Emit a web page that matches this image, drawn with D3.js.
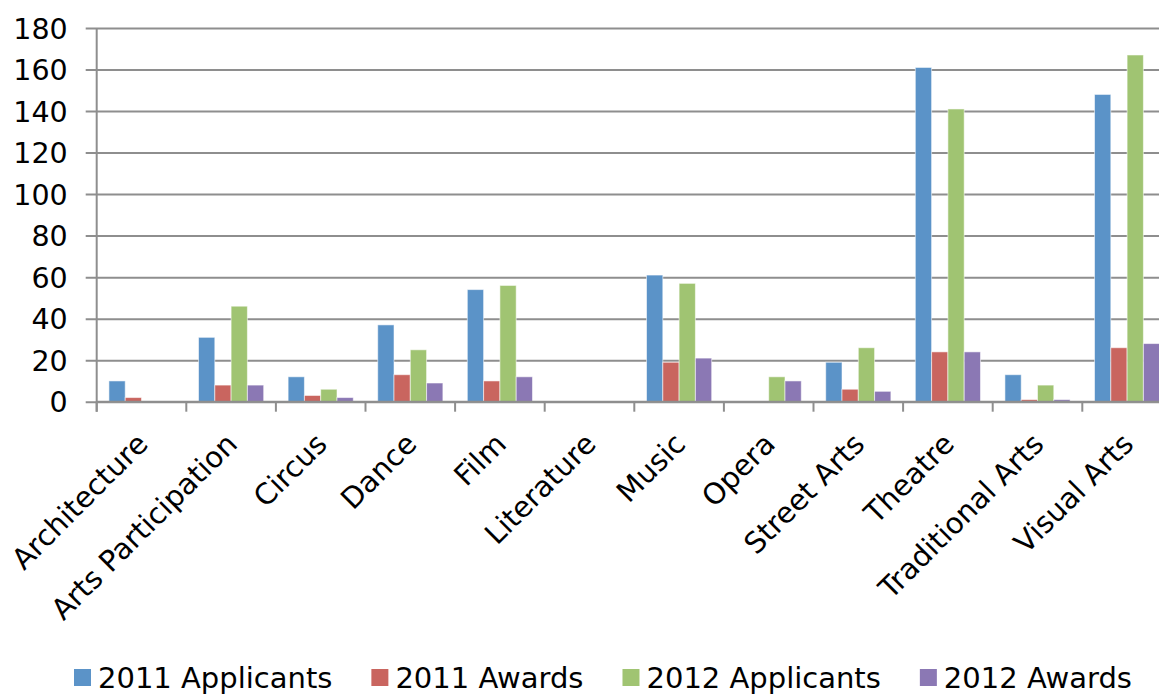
<!DOCTYPE html>
<html>
<head>
<meta charset="utf-8">
<script src="https://cdn.jsdelivr.net/npm/d3@7"></script>
<style>
  html, body { margin: 0; padding: 0; background: #fff; overflow: hidden; }
  svg { display: block; }
  text { font-family: "DejaVu Sans", sans-serif; fill: #000; }
</style>
</head>
<body>
<svg id="chart" width="1159" height="695"></svg>
<script>
// Arts categories and the number of applicants / awards per year
const categories = ["Architecture", "Arts Participation", "Circus", "Dance", "Film", "Literature",
  "Music", "Opera", "Street Arts", "Theatre", "Traditional Arts", "Visual Arts"];
const seriesNames = ["2011 Applicants", "2011 Awards", "2012 Applicants", "2012 Awards"];
const applicants2011 = [10, 31, 12, 37, 54, 0, 61, 0, 19, 161, 13, 148];
const awards2011     = [2, 8, 3, 13, 10, 0, 19, 0, 6, 24, 1, 26];
const applicants2012 = [0, 46, 6, 25, 56, 0, 57, 12, 26, 141, 8, 167];
const awards2012     = [0, 8, 2, 9, 12, 0, 21, 10, 5, 24, 1, 28];
const yTicks = [0, 20, 40, 60, 80, 100, 120, 140, 160, 180];
const colors = ["#5B93C8", "#C9655F", "#A0C472", "#8B78B4"];

const seriesValues = [applicants2011, awards2011, applicants2012, awards2012];

const svg = d3.select("#chart");

// plot area
const plotLeft = 96.7, plotTop = 28, plotBottom = 401.7;
const bandW = 89.6;
const plotRight = plotLeft + bandW * categories.length;

const x0 = d3.scaleBand().domain(categories).range([plotLeft, plotRight]).padding(0);
// bar width with a 150% gap between groups
const barW = x0.bandwidth() / (seriesNames.length + 1.5);
const x1 = d3.scaleBand().domain(seriesNames)
  .range([barW * 0.75, x0.bandwidth() - barW * 0.75]).padding(0);
const y = d3.scaleLinear().domain([0, 180]).range([plotBottom, plotTop]);

const gridColor = "#8E8E8E";

// horizontal gridlines with the y axis labels
const yAxis = d3.axisLeft(y).tickValues(yTicks).tickFormat(d3.format("d"));
const gy = svg.append("g").attr("transform", `translate(${plotLeft},0)`).call(yAxis);
gy.select(".domain").remove();
gy.selectAll(".tick line")
  .attr("x1", -11).attr("x2", plotRight - plotLeft)
  .attr("stroke", gridColor).attr("stroke-width", 2);
gy.selectAll(".tick text")
  .attr("x", -29).attr("dy", "0.36em")
  .style("font-size", "28.5px").style("font-family", "DejaVu Sans, sans-serif")
  .attr("fill", "#000");

// bars
const groups = svg.append("g").selectAll("g")
  .data(categories)
  .join("g")
  .attr("transform", d => `translate(${x0(d)},0)`);

groups.selectAll("rect")
  .data((c, i) => seriesNames.map((s, k) => ({ s, k, v: seriesValues[k][i] })))
  .join("rect")
  .attr("x", d => x1(d.s))
  .attr("width", x1.bandwidth())
  .attr("y", d => y(d.v))
  .attr("height", d => y(0) - y(d.v))
  .attr("fill", d => colors[d.k])
  .attr("stroke", "rgba(255,255,255,0.55)")
  .attr("stroke-width", 1);

// vertical axis line
svg.append("line")
  .attr("x1", plotLeft).attr("x2", plotLeft).attr("y1", plotTop).attr("y2", plotBottom + 10)
  .attr("stroke", gridColor).attr("stroke-width", 2);

// category axis: baseline and boundary ticks
svg.append("line")
  .attr("x1", plotLeft).attr("x2", plotRight).attr("y1", plotBottom).attr("y2", plotBottom)
  .attr("stroke", gridColor).attr("stroke-width", 2);
const boundaries = categories.map(c => x0(c)).concat([plotRight]);
svg.append("g").selectAll("line")
  .data(boundaries)
  .join("line")
  .attr("x1", d => d).attr("x2", d => d)
  .attr("y1", plotBottom).attr("y2", plotBottom + 10)
  .attr("stroke", gridColor).attr("stroke-width", 2);

// rotated category labels
svg.append("g").selectAll("text")
  .data(categories)
  .join("text")
  .attr("text-anchor", "end")
  .attr("transform", d => {
    const cx = x0(d) + x0.bandwidth() / 2 + 8;
    return `translate(${cx},${plotBottom + 44}) rotate(-45)`;
  })
  .style("font-size", "29px")
  .text(d => d);

// legend
const legend = svg.append("g");
let lx = 74;
seriesNames.forEach((name, k) => {
  legend.append("rect")
    .attr("x", lx).attr("y", 669).attr("width", 17).attr("height", 17)
    .attr("fill", colors[k]);
  const t = legend.append("text")
    .attr("x", lx + 24).attr("y", 688)
    .style("font-size", "29px")
    .text(name);
  lx += 24 + t.node().getComputedTextLength() + 39;
});
</script>
</body>
</html>
